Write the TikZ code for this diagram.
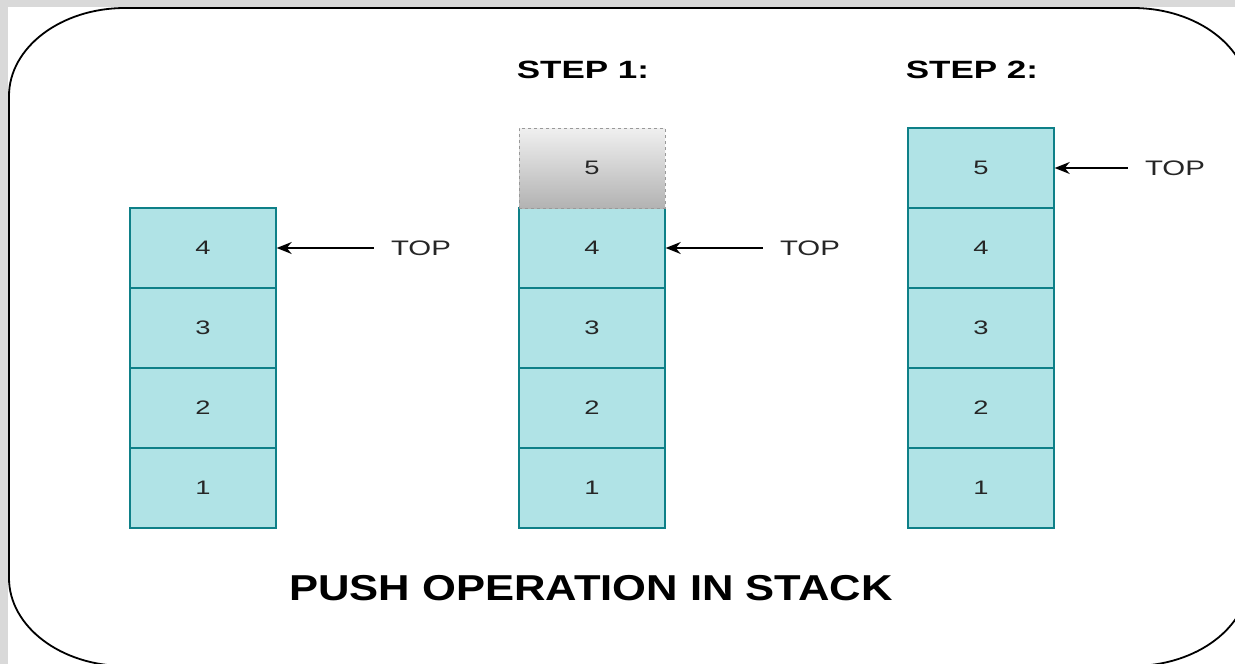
\documentclass[tikz,border=0pt]{standalone}
\usepackage{fontspec}
\setmainfont{Liberation Sans}
\newfontfamily\widefont[FakeStretch = 1.4]{Liberation Sans}
\newfontfamily\titlefont[FakeStretch = 1.21]{Liberation Sans}
\usetikzlibrary{arrows.meta}
\definecolor{cellfill}{HTML}{B0E3E6}
\definecolor{celldraw}{HTML}{0E8088}
\definecolor{backgray}{HTML}{D9D9D9}
\tikzset{
	cell/.style = {draw = celldraw, fill = cellfill, text = black!85, line width = 1.4pt, minimum width = 146pt, minimum height = 80pt, inner sep = 0pt, font = \widefont\fontsize{19.5}{22}\selectfont},
	ghost/.style = {draw = black!40, dashed, dash pattern = on 3pt off 3pt, line width = 1pt, top color = black!6, bottom color = black!30, text = black!85, minimum width = 146pt, minimum height = 80pt, inner sep = 0pt, font = \widefont\fontsize{19.5}{22}\selectfont},
	toplabel/.style = {inner sep = 0pt, text = black!85, font = \widefont\fontsize{21}{24}\selectfont},
	steplabel/.style = {inner sep = 0pt, font = \widefont\bfseries\fontsize{25}{28}\selectfont},
	pointer/.style = {-{Stealth[length = 15pt, width = 12pt]}, line width = 1.5pt, shorten < = 17pt}
}

\begin{document}
\begin{tikzpicture}[x = 1pt, y = -1pt]

	\useasboundingbox (0, 0) rectangle (1235, 664);
	\fill[backgray] (0, 0) rectangle (1235, 664);
	\fill[white] (8, 7) rectangle (1235, 664);

	% Rahmen mit runden Ecken
	\draw[black, line width = 1.8pt] (125, 8) -- (1133, 8) .. controls (1197, 8) and (1249, 47.4) .. (1249, 96) -- (1249, 578) .. controls (1249, 626.6) and (1197, 666) .. (1133, 666) -- (125, 666) .. controls (61, 666) and (9, 626.6) .. (9, 578) -- (9, 96) .. controls (9, 47.4) and (61, 8) .. (125, 8) -- cycle;

	% Stapel vorher
	\node[cell] (a1) at (203, 488) {1};
	\node[cell] (a2) at (203, 408) {2};
	\node[cell] (a3) at (203, 328) {3};
	\node[cell] (a4) at (203, 248) {4};

	% Schritt 1
	\node[cell] (b1) at (592, 488) {1};
	\node[cell] (b2) at (592, 408) {2};
	\node[cell] (b3) at (592, 328) {3};
	\node[cell] (b4) at (592, 248) {4};
	\node[ghost] (b5) at (592, 168) {5};

	% Schritt 2
	\node[cell] (c1) at (981, 488) {1};
	\node[cell] (c2) at (981, 408) {2};
	\node[cell] (c3) at (981, 328) {3};
	\node[cell] (c4) at (981, 248) {4};
	\node[cell] (c5) at (981, 168) {5};

	\node[steplabel] (stepA) at (583, 70) {STEP 1:};
	\node[steplabel] (stepB) at (972, 70) {STEP 2:};

	\node[toplabel] (topA) at (421, 248) {TOP};
	\node[toplabel] (topB) at (810, 248) {TOP};
	\node[toplabel] (topC) at (1175, 168) {TOP};

	\draw[pointer] (topA.west) -- (a4.east);
	\draw[pointer] (topB.west) -- (b4.east);
	\draw[pointer] (topC.west) -- (c5.east);

	\node[inner sep = 0pt, font = \titlefont\bfseries\fontsize{36}{40}\selectfont] (title) at (591, 588) {PUSH OPERATION IN STACK};

\end{tikzpicture}
\end{document}
